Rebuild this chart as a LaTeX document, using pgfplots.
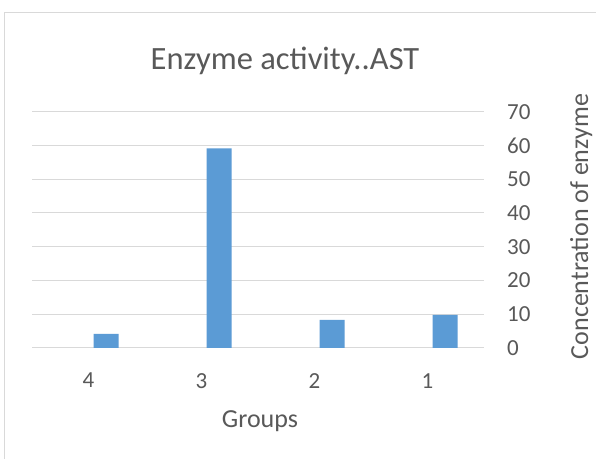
\documentclass[border=0pt]{standalone}
\usepackage{fontspec}
\setmainfont{Carlito}
\usepackage{pgfplots}
\pgfplotsset{compat=1.18}
\definecolor{barblue}{HTML}{5B9BD5}
\definecolor{gridgray}{HTML}{D9D9D9}
\definecolor{txt}{HTML}{595959}
\begin{document}
\begin{tikzpicture}
\path[use as bounding box, fill=white] (0bp,0bp) rectangle (596bp,459bp);
\draw[gridgray, line width=1bp] (4.5bp,0bp) -- (4.5bp,446bp) -- (596bp,446bp);
\begin{axis}[
  at={(32bp,111bp)}, anchor=south west,
  scale only axis, width=452bp, height=236.3bp,
  xmin=0.5, xmax=4.5, ymin=0, ymax=70,
  axis line style={draw=none},
  ytick={0,10,...,70},
  xtick={1,2,3,4}, xticklabels={4,3,2,1},
  major tick length=0pt, tick style={draw=none},
  ymajorgrids, grid style={gridgray, line width=1bp},
  yticklabel pos=right,
  yticklabel style={anchor=west, inner sep=0pt, xshift=23bp},
  xticklabel style={anchor=north, inner sep=0pt, yshift=-25bp},
  ticklabel style={font=\fontsize{23bp}{27bp}\selectfont, text=txt},
  /pgf/number format/assume math mode=true,
]
\addplot[ybar, bar width=25bp, bar shift=17.5bp, fill=barblue, draw=none]
  coordinates {(1,4.2) (2,59.1) (3,8.3) (4,9.8)};
\end{axis}
\node[anchor=base, text=txt, font=\fontsize{32.5bp}{38bp}\selectfont, inner sep=0pt] at (285bp,389bp) {Enzyme activity..AST};
\node[anchor=base, text=txt, font=\fontsize{26bp}{31bp}\selectfont, inner sep=0pt] at (260bp,31.7bp) {Groups};
\node[anchor=base, rotate=90, text=txt, font=\fontsize{26bp}{31bp}\selectfont, inner sep=0pt] at (588bp,232.5bp) {Concentration of enzyme};
\end{tikzpicture}
\end{document}
